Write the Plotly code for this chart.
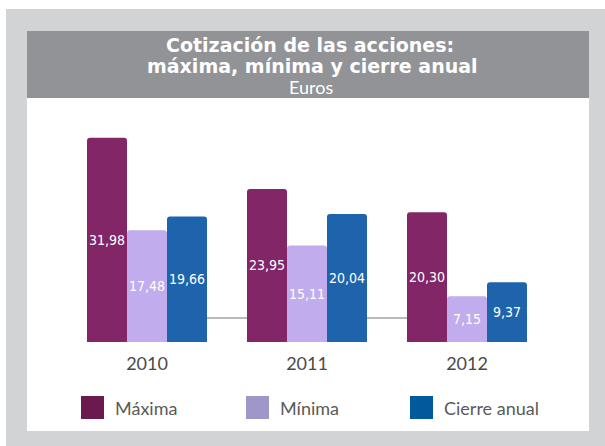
import plotly.graph_objects as go

# ---- data ----
years = ["2010", "2011", "2012"]
maxima = [31.98, 23.95, 20.30]
minima = [17.48, 15.11, 7.15]
cierre = [19.66, 20.04, 9.37]
series_names = ["Máxima", "Mínima", "Cierre anual"]
bar_colors = ["#822667", "#c1aced", "#1e64ad"]
legend_colors = ["#6a1a4e", "#a097c9", "#005a9c"]

W, H = 605, 446


def px(x):
    return x / W


def py(y):
    return 1 - y / H


LABEL_FONT = "Liberation Sans Narrow, DejaVu Sans Condensed, Roboto, sans-serif"
TEXT_FONT = "Lato, Noto Sans, sans-serif"
TITLE_FONT = "DejaVu Sans, sans-serif"

fig = go.Figure()
for name, vals, col in zip(series_names, [maxima, minima, cierre], bar_colors):
    fig.add_trace(go.Bar(
        x=years, y=vals, name=name,
        marker=dict(color=col, line=dict(width=0), cornerradius=3),
        texttemplate="%{y:.2f}", textposition="inside", insidetextanchor="middle",
        textfont=dict(color="white", size=14, family=LABEL_FONT),
        textangle=0, constraintext="none", showlegend=False, hoverinfo="skip",
    ))

shapes = [
    dict(type="rect", xref="paper", yref="paper", x0=px(6), x1=1, y0=0, y1=py(9),
         fillcolor="#d2d3d5", line=dict(width=0), layer="below"),
    dict(type="rect", xref="paper", yref="paper", x0=px(27), x1=px(589), y0=py(431), y1=py(31),
         fillcolor="#ffffff", line=dict(width=0), layer="below"),
    dict(type="rect", xref="paper", yref="paper", x0=px(27), x1=px(589), y0=py(98), y1=py(31),
         fillcolor="#929396", line=dict(width=0), layer="below"),
    dict(type="line", xref="x", yref="y", x0=-0.375, x1=2.375, y0=3.76, y1=3.76,
         line=dict(color="#a3a3a3", width=1.5), layer="below"),
]

annotations = [
    dict(text="<b>Cotización de las acciones:</b>", x=px(310), y=py(45), xref="paper", yref="paper",
         showarrow=False, xanchor="center", yanchor="middle",
         font=dict(family=TITLE_FONT, size=19, color="white")),
    dict(text="<b>máxima, mínima y cierre anual</b>", x=px(312), y=py(66), xref="paper", yref="paper",
         showarrow=False, xanchor="center", yanchor="middle",
         font=dict(family=TITLE_FONT, size=19, color="white")),
    dict(text="Euros", x=px(311), y=py(87), xref="paper", yref="paper",
         showarrow=False, xanchor="center", yanchor="middle",
         font=dict(family=TEXT_FONT, size=18, color="white")),
]

legend_sq_x = [81, 246, 410]
for name, col, sx in zip(series_names, legend_colors, legend_sq_x):
    shapes.append(dict(type="rect", xref="paper", yref="paper", x0=px(sx), x1=px(sx + 23),
                       y0=py(419), y1=py(396), fillcolor=col, line=dict(width=0)))
    annotations.append(dict(text=name, x=px(sx + 32), y=py(408), xref="paper", yref="paper",
                            showarrow=False, xanchor="left", yanchor="middle",
                            font=dict(family=TEXT_FONT, size=18, color="#5a5a5a")))

fig.update_layout(
    width=W, height=H,
    margin=dict(l=0, r=0, t=0, b=0),
    paper_bgcolor="white", plot_bgcolor="rgba(0,0,0,0)",
    separators=",.",
    barmode="group", bargap=0.25, bargroupgap=0,
    xaxis=dict(domain=[px(67), px(547)], range=[-0.5, 2.5], type="category",
               showline=False, showgrid=False, zeroline=False, ticks="",
               tickfont=dict(family=TEXT_FONT, size=18, color="#4a4a4a"),
               ticklabelstandoff=9),
    yaxis=dict(domain=[py(342), py(112)], range=[0, 36], visible=False),
    shapes=shapes, annotations=annotations,
    showlegend=False,
)

fig.write_html("out.html", config={"displayModeBar": False},
               post_script="document.body.style.margin='0';")
